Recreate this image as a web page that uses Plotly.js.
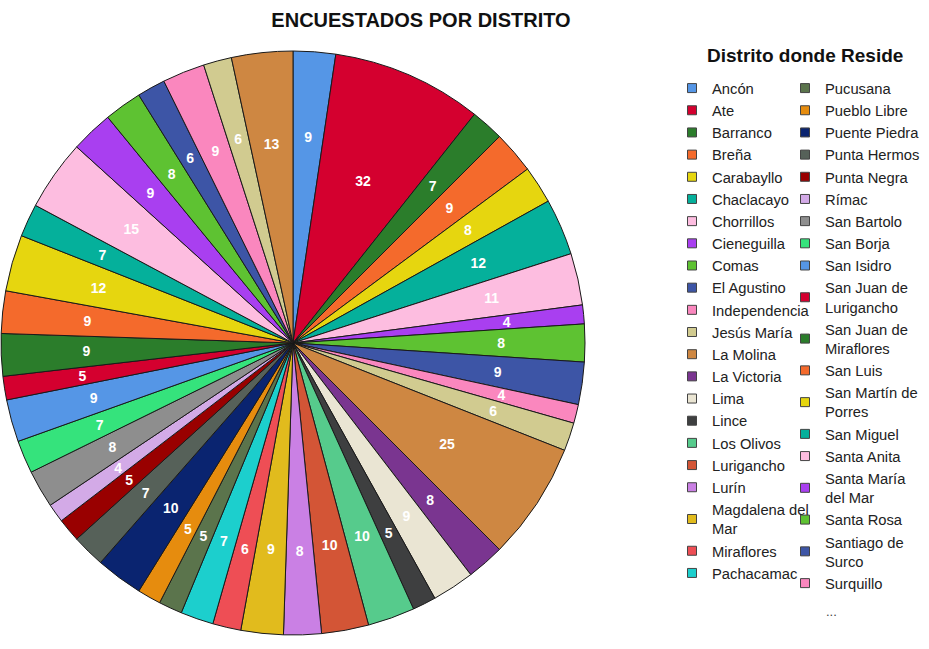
<!DOCTYPE html>
<html><head><meta charset="utf-8">
<script src="https://cdn.plot.ly/plotly-3.0.1.min.js"></script>
<style>html,body{margin:0;padding:0;background:#fff}#chart{width:929px;height:649px}</style>
</head><body><div id="chart"></div>
<script>
const districts = ["Ancón","Ate","Barranco","Breña","Carabayllo","Chaclacayo","Chorrillos","Cieneguilla","Comas","El Agustino","Independencia","Jesús María","La Molina","La Victoria","Lima","Lince","Los Olivos","Lurigancho","Lurín","Magdalena del Mar","Miraflores","Pachacamac","Pucusana","Pueblo Libre","Puente Piedra","Punta Hermosa","Punta Negra","Rímac","San Bartolo","San Borja","San Isidro","San Juan de Lurigancho","San Juan de Miraflores","San Luis","San Martín de Porres","San Miguel","Santa Anita","Santa María del Mar","Santa Rosa","Santiago de Surco","Surquillo","Villa El Salvador","Villa María del Triunfo"];
const counts = [9,32,7,9,8,12,11,4,8,9,4,6,25,8,9,5,10,10,8,9,6,7,5,5,10,7,5,4,8,7,9,5,9,9,12,7,15,9,8,6,9,6,13];
const palette = ["#5596E6","#D4002F","#2B7D2B","#F46A2C","#E6D60F","#05B09B","#FDBDE0","#A93FF0","#5EC232","#3D55A6","#FA87BE","#D1CB90","#CE8742","#7A3590","#EAE5D3","#3E3F40","#56CB8C","#D35536","#CA80E4","#E1BB1D","#EE4E55","#1CCFCD","#5B744C","#E68C0E","#0A2470","#566159","#990000","#D3AAE7","#8E8E8E","#35E37C"];
const legendLabels = ["Ancón","Ate","Barranco","Breña","Carabayllo","Chaclacayo","Chorrillos","Cieneguilla","Comas","El Agustino","Independencia","Jesús María","La Molina","La Victoria","Lima","Lince","Los Olivos","Lurigancho","Lurín","Magdalena del<br>Mar","Miraflores","Pachacamac","Pucusana","Pueblo Libre","Puente Piedra","Punta Hermos","Punta Negra","Rímac","San Bartolo","San Borja","San Isidro","San Juan de<br>Lurigancho","San Juan de<br>Miraflores","San Luis","San Martín de<br>Porres","San Miguel","Santa Anita","Santa María<br>del Mar","Santa Rosa","Santiago de<br>Surco","Surquillo"];
const legendSplit = 22;

const sliceColors = districts.map((d, i) => palette[i % palette.length]);
const W = 929, H = 649;
const cx = 293, cy = 343, R = 292;
const labelR = R * 0.76;
const dom = r => ({x: [(cx - r) / W, (cx + r) / W], y: [1 - (cy + r) / H, 1 - (cy - r) / H]});
const FONT = 'Liberation Sans, Arial, sans-serif';

const traces = [{
  type: 'pie',
  values: counts,
  labels: districts,
  sort: false,
  direction: 'clockwise',
  rotation: 0,
  marker: {colors: sliceColors, line: {color: '#1a1a1a', width: 1}},
  textinfo: 'none',
  showlegend: false,
  hoverinfo: 'label+value',
  domain: dom(R)
}, {
  // value labels, carried by a transparent copy of the pie so they sit further inside
  type: 'pie',
  values: counts,
  labels: districts,
  sort: false,
  direction: 'clockwise',
  rotation: 0,
  marker: {colors: districts.map(() => 'rgba(0,0,0,0)'), line: {width: 0}},
  textinfo: 'value',
  textposition: 'inside',
  insidetextorientation: 'horizontal',
  textfont: {family: FONT, size: 14, color: '#ffffff', weight: 'bold'},
  showlegend: false,
  hoverinfo: 'skip',
  domain: dom(labelR)
}];

legendLabels.forEach((lab, i) => {
  traces.push({
    type: 'scatter', mode: 'markers', x: [null], y: [null],
    name: lab,
    legend: i < legendSplit ? 'legend' : 'legend2',
    marker: {symbol: 'square', size: 9, color: sliceColors[i], line: {color: '#444', width: 1}},
    hoverinfo: 'skip'
  });
});

const legendFont = {family: FONT, size: 14.75, color: '#222'};
const legendTop = 1 - 72 / H;
const layout = {
  width: W, height: H,
  margin: {l: 0, r: 0, t: 0, b: 0},
  paper_bgcolor: '#fff', plot_bgcolor: '#fff',
  xaxis: {visible: false}, yaxis: {visible: false},
  uniformtext: {mode: 'show', minsize: 14},
  title: {text: '<b>ENCUESTADOS POR DISTRITO</b>', font: {family: FONT, size: 20, color: '#111'},
          x: 421 / W, xanchor: 'center', y: 1 - 20 / H, yanchor: 'middle'},
  legend: {x: (712 - 40) / W, xanchor: 'left', y: legendTop, yanchor: 'top', font: legendFont,
           bgcolor: 'rgba(0,0,0,0)', itemwidth: 30, tracegroupgap: 0, traceorder: 'normal'},
  legend2: {x: (825 - 40) / W, xanchor: 'left', y: legendTop, yanchor: 'top', font: legendFont,
            bgcolor: 'rgba(0,0,0,0)', itemwidth: 30, tracegroupgap: 0, traceorder: 'normal'},
  annotations: [
    {text: '<b>Distrito donde Reside</b>', xref: 'paper', yref: 'paper', x: 805 / W, y: 1 - 55 / H,
     xanchor: 'center', yanchor: 'middle', showarrow: false,
     font: {family: FONT, size: 19, color: '#111'}},
    {text: '...', xref: 'paper', yref: 'paper', x: 824 / W, y: 1 - 611 / H,
     xanchor: 'left', yanchor: 'middle', showarrow: false,
     font: {family: FONT, size: 13, color: '#444'}}
  ]
};

Plotly.newPlot('chart', traces, layout, {displayModeBar: false, staticPlot: true});
</script></body></html>
